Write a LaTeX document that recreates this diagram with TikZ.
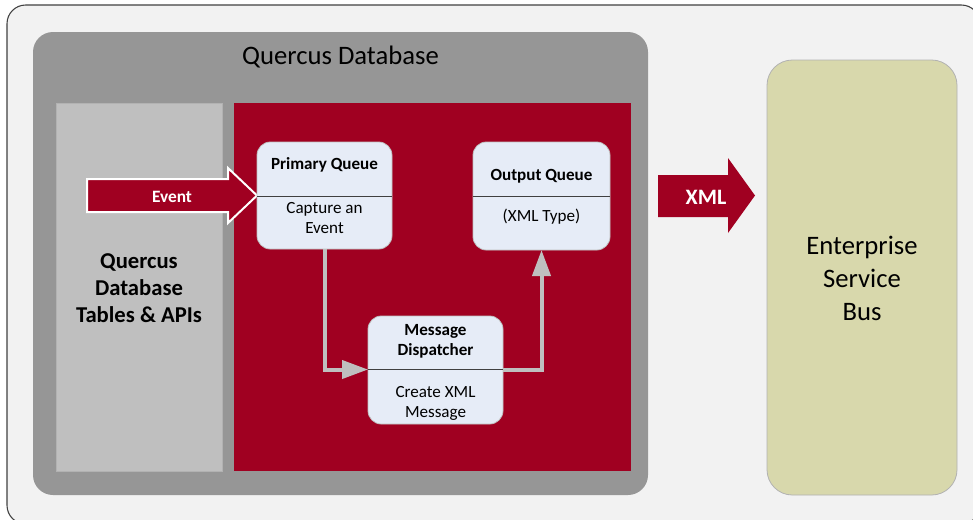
\documentclass[tikz,border=0pt]{standalone}
\usepackage{fontspec}
\setmainfont{Carlito}
\usetikzlibrary{fit,arrows.meta}
\definecolor{bgc}{HTML}{F2F2F2}
\definecolor{grayc}{HTML}{969696}
\definecolor{panelc}{HTML}{BFBFBF}
\definecolor{redc}{HTML}{A00021}
\definecolor{boxc}{HTML}{E6ECF7}
\definecolor{esbc}{HTML}{D8D8AC}
\definecolor{connc}{HTML}{BFBFBF}
\definecolor{divc}{HTML}{404040}
\begin{document}
\begin{tikzpicture}[x=0.75pt,y=-0.75pt,
  area/.style={inner sep=0pt, outer sep=0pt},
  qbox/.style={area, fill=boxc, draw=black!25, line width=0.6pt, rounded corners=10pt},
  divider/.style={draw=divc, line width=0.7pt},
  conn/.style={draw=connc, line width=3pt, -{Triangle[length=19.5pt,width=13.5pt]}},
  boxtitle/.style={font=\bfseries\fontsize{12.8}{15}\selectfont, align=center},
  boxtext/.style={font=\fontsize{12.8}{15}\selectfont, align=center},
  bigtext/.style={font=\fontsize{20}{24.75}\selectfont, align=center},
  arrowlabel/.style={text=white, font=\bfseries}
]
\useasboundingbox (0,0) rectangle (973,519);
\clip (0,0) rectangle (973,519);
% outer frame
\node[area, fit={(7,5)(980,524)}, fill=bgc, draw=black!75, line width=0.8pt, rounded corners=14pt] (outer) {};
% Quercus database container
\node[area, fit={(33,32)(648,495)}, fill=grayc, rounded corners=15pt] (qdb) {};
\node[bigtext] (qdbtitle) at (340.5,57) {Quercus Database};
% tables panel
\node[area, fit={(56,103)(222,471)}, fill=panelc, draw=black!30, line width=0.4pt] (tables) {};
\node[font=\bfseries\fontsize{17}{20.25}\selectfont, align=center] (tabtext) at (139,288.5) {Quercus\\Database\\Tables \& APIs};
% red panel
\node[area, fit={(234,103)(631,471)}, fill=redc] (redpanel) {};
% Event arrow
\path[fill=redc, draw=white, line width=1.5pt, line join=miter]
  (87,179) -- (228,179) -- (228,168) -- (257,195.5) -- (228,223) -- (228,212) -- (87,212) -- cycle;
\node[arrowlabel, font=\bfseries\fontsize{13}{15}\selectfont] (evt) at (172,196.5) {Event};
% boxes
\node[qbox, fit={(257,142)(392,249)}] (pq) {};
\node[qbox, fit={(473,142)(610,250)}] (oq) {};
\node[qbox, fit={(368,316)(503,424)}] (md) {};
\coordinate (d1) at (0,196);
\coordinate (d2) at (0,369.5);
\draw[divider] (pq.west |- d1) -- (pq.east |- d1);
\draw[divider] (oq.west |- d1) -- (oq.east |- d1);
\draw[divider] (md.west |- d2) -- (md.east |- d2);
\node[boxtitle] (pqt) at (324.5,164.5) {Primary Queue};
\node[boxtext] (pqx) at (324.5,218) {Capture an\\Event};
\node[boxtitle] (oqt) at (541.5,176.5) {Output Queue};
\node[boxtext] (oqx) at (541.5,217) {(XML Type)};
\node[boxtitle] (mdt) at (435.5,341) {Message\\Dispatcher};
\node[boxtext] (mdx) at (435.5,403) {Create XML\\Message};
% connectors
\draw[conn] (pq.south) |- (md.west |- d2);
\draw[conn] (md.east |- d2) -| (oq.south);
% XML arrow
\path[fill=redc] (658,175) -- (728,175) -- (728,158) -- (755,195.5) -- (728,233) -- (728,217) -- (658,217) -- cycle;
\node[arrowlabel, font=\bfseries\fontsize{16.5}{18}\selectfont] (xml) at (706,197) {XML};
% ESB
\node[area, fit={(767,60)(957,495)}, fill=esbc, draw=black!30, line width=0.6pt, rounded corners=19pt] (esb) {};
\node[bigtext] (esbt) at (862,278.5) {Enterprise\\Service\\Bus};
\end{tikzpicture}
\end{document}
